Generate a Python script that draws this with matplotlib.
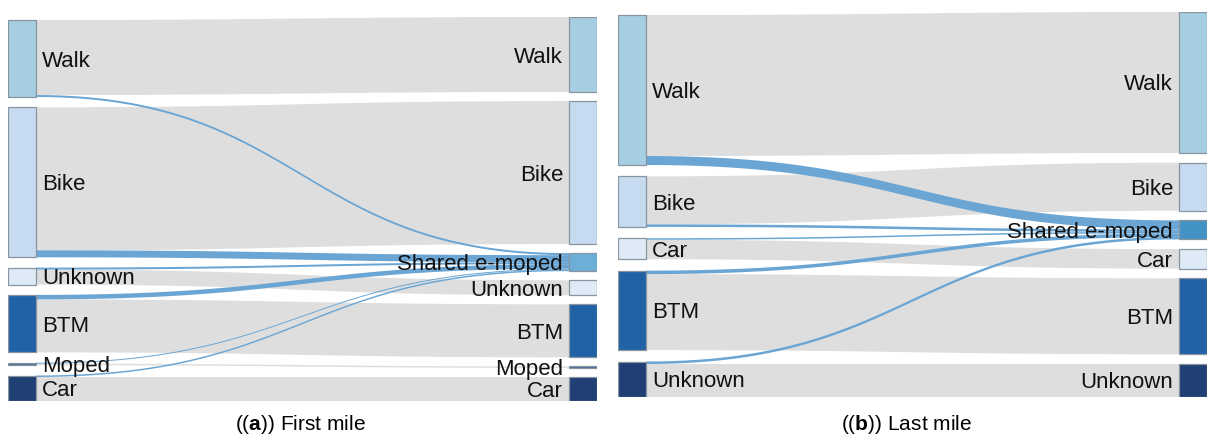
import numpy as np
import matplotlib.pyplot as plt
from matplotlib.patches import Rectangle, Polygon

plt.rcParams['font.family'] = ['Liberation Sans', 'DejaVu Sans']
plt.rcParams['mathtext.fontset'] = 'custom'
plt.rcParams['mathtext.rm'] = 'Liberation Sans'
plt.rcParams['mathtext.bf'] = 'Liberation Sans:bold'

# ---- data: (a) first mile ----
a_left = ['Walk', 'Bike', 'Unknown', 'BTM', 'Moped', 'Car']
a_right = ['Walk', 'Bike', 'Shared e-moped', 'Unknown', 'BTM', 'Moped', 'Car']
a_src = ['Walk', 'Walk', 'Bike', 'Bike', 'Unknown', 'Unknown', 'BTM', 'BTM', 'Moped', 'Moped', 'Car', 'Car']
a_tgt = ['Walk', 'Shared e-moped', 'Bike', 'Shared e-moped', 'Shared e-moped', 'Unknown',
         'Shared e-moped', 'BTM', 'Shared e-moped', 'Moped', 'Shared e-moped', 'Car']
a_val = [75, 2, 143, 7, 2, 15, 4.5, 53, 1, 1.5, 1.5, 24]

# ---- data: (b) last mile ----
b_left = ['Walk', 'Bike', 'Car', 'BTM', 'Unknown']
b_right = ['Walk', 'Bike', 'Shared e-moped', 'Car', 'BTM', 'Unknown']
b_src = ['Walk', 'Walk', 'Bike', 'Bike', 'Car', 'Car', 'BTM', 'BTM', 'Unknown', 'Unknown']
b_tgt = ['Walk', 'Shared e-moped', 'Bike', 'Shared e-moped', 'Shared e-moped', 'Car',
         'Shared e-moped', 'BTM', 'Shared e-moped', 'Unknown']
b_val = [141, 9, 48, 2.5, 1.5, 19.5, 3.5, 76, 2.5, 33]

a_colors = {'Walk': '#a6cee3', 'Bike': '#c6dbef', 'Unknown': '#deebf7', 'BTM': '#2161a6',
            'Moped': '#3c6896', 'Car': '#1f3f75', 'Shared e-moped': '#6baed6'}
b_colors = {'Walk': '#a6cee3', 'Bike': '#c6dbef', 'Car': '#deebf7', 'BTM': '#2161a6',
            'Unknown': '#1f3f75', 'Shared e-moped': '#4292c6'}

GREY = '#dedede'
BLUE = '#6aa5d3'
FS = 16


def column_layout(names, totals, start, span):
    pad = (span - sum(totals[n] for n in names)) / (len(names) - 1)
    pos, y = {}, start
    for n in names:
        pos[n] = y
        y += totals[n] + pad
    return pos


def band(ax, x0, x1, ys0, ys1, yt0, yt1, color, z):
    t = np.linspace(0, 1, 60)
    xm = (x0 + x1) / 2
    bx = (1 - t)**3 * x0 + 3 * (1 - t)**2 * t * xm + 3 * (1 - t) * t**2 * xm + t**3 * x1
    s = 3 * t**2 - 2 * t**3
    top = ys0 + (yt0 - ys0) * s
    bot = ys1 + (yt1 - ys1) * s
    pts = np.vstack([np.column_stack([bx, top]), np.column_stack([bx[::-1], bot[::-1]])])
    ax.add_patch(Polygon(pts, closed=True, facecolor=color, edgecolor='none', zorder=z))


def label(ax, x, y, text, ha):
    # put cap-height centre on the node centre (y axis is in pixels, inverted)
    ax.text(x, y + 8, text, ha=ha, va='baseline', fontsize=FS, color='#111111', zorder=6)


def sankey(ax, left, right, src, tgt, val, colors, width, span):
    nw = 28
    lt = {n: 0 for n in left}
    rt = {n: 0 for n in right}
    for s, t, v in zip(src, tgt, val):
        lt[s] += v
        rt[t] += v
    lp = column_layout(left, lt, 3, span - 3)
    rp = column_layout(right, rt, 0, span)
    links = list(zip(src, tgt, val))
    s_start = {}
    for n in left:
        y = lp[n]
        for l in sorted([l for l in links if l[0] == n], key=lambda l: rp[l[1]]):
            s_start[l] = y
            y += l[2]
    t_start = {}
    for n in right:
        y = rp[n]
        for l in sorted([l for l in links if l[1] == n], key=lambda l: lp[l[0]]):
            t_start[l] = y
            y += l[2]
    for l in links:
        s, t, v = l
        shared = t == 'Shared e-moped'
        band(ax, nw, width - nw, s_start[l], s_start[l] + v, t_start[l], t_start[l] + v,
             BLUE if shared else GREY, 3 if shared else 1)
    for n in left:
        ax.add_patch(Rectangle((0, lp[n]), nw, lt[n], facecolor=colors[n],
                               edgecolor='#8894a0', lw=0.9, zorder=4))
        label(ax, nw + 6, lp[n] + lt[n] / 2, n, 'left')
    for n in right:
        ax.add_patch(Rectangle((width - nw, rp[n]), nw, rt[n], facecolor=colors[n],
                               edgecolor='#8894a0', lw=0.9, zorder=4))
        label(ax, width - nw - 6, rp[n] + rt[n] / 2, n, 'right')
    ax.set_xlim(0, width)
    ax.set_ylim(span, 0)
    ax.axis('off')


W, H = 1208, 437
fig = plt.figure(figsize=(W / 100, H / 100), dpi=100)

ax1 = fig.add_axes([8 / W, (H - 401) / H, 589 / W, 384 / H])
sankey(ax1, a_left, a_right, a_src, a_tgt, a_val, a_colors, 589, 384)

ax2 = fig.add_axes([618 / W, (H - 397) / H, 589 / W, 385 / H])
sankey(ax2, b_left, b_right, b_src, b_tgt, b_val, b_colors, 589, 385)

fig.text(300 / W, 12 / H, r'(($\mathbf{a}$)) First mile', ha='center', va='center', fontsize=15)
fig.text(906 / W, 12 / H, r'(($\mathbf{b}$)) Last mile', ha='center', va='center', fontsize=15)

fig.savefig('out.png', dpi=100)
